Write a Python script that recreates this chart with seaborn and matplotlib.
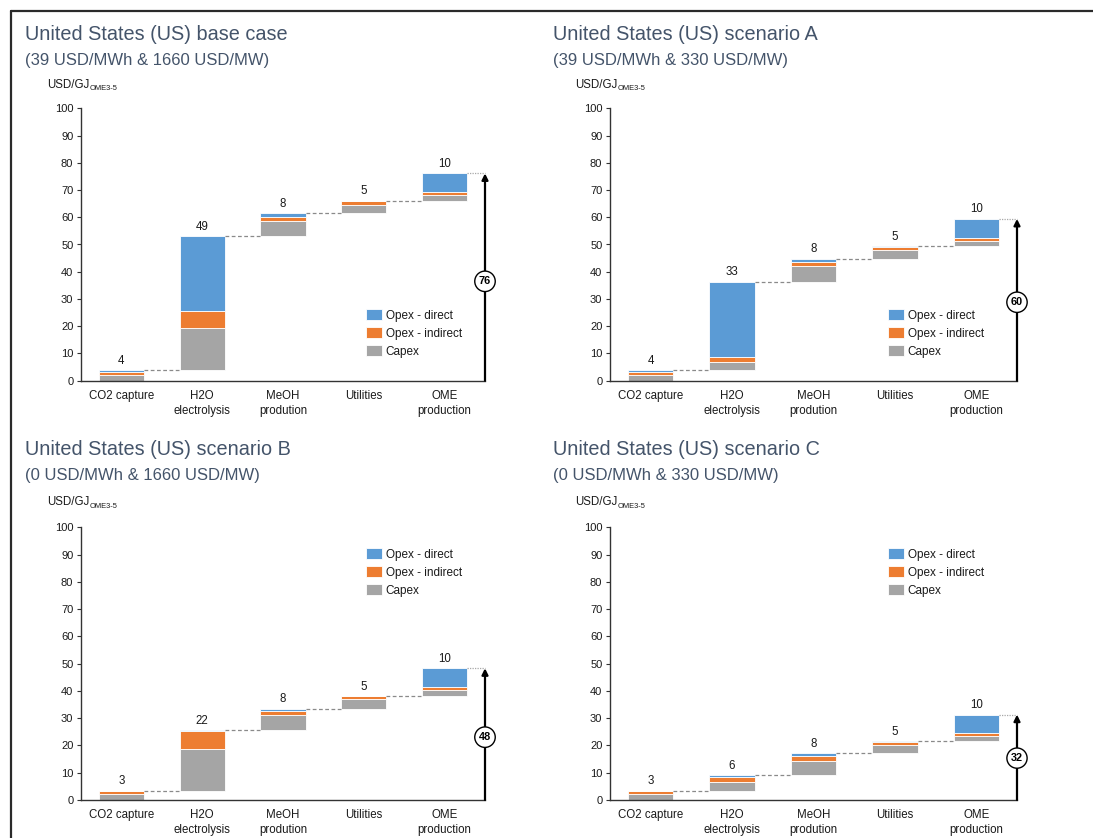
import numpy as np
import matplotlib
matplotlib.use("Agg")
import matplotlib.pyplot as plt
from matplotlib.patches import Patch
from matplotlib.lines import Line2D
import seaborn as sns

# ---------------- data ----------------
categories = ["CO2 capture", "H2O\nelectrolysis", "MeOH\nprodution", "Utilities", "OME\nproduction"]
components = ["Capex", "Opex - indirect", "Opex - direct"]

titles = ["United States (US) base case", "United States (US) scenario A",
          "United States (US) scenario B", "United States (US) scenario C"]
subtitles = ["(39 USD/MWh & 1660 USD/MW)", "(39 USD/MWh & 330 USD/MW)",
             "(0 USD/MWh & 1660 USD/MW)", "(0 USD/MWh & 330 USD/MW)"]

capex_base = [2.0, 15.6, 5.5, 3.2, 2.1]
opex_ind_base = [1.3, 6.2, 1.6, 1.2, 1.2]
opex_dir_base = [0.6, 27.3, 1.3, 0.2, 6.8]

capex_a = [2.0, 3.1, 5.7, 3.2, 2.1]
opex_ind_a = [1.3, 1.8, 1.6, 1.1, 1.1]
opex_dir_a = [0.6, 27.6, 1.1, 0.2, 6.9]

capex_b = [2.2, 15.4, 5.5, 3.4, 2.1]
opex_ind_b = [1.2, 6.5, 1.8, 1.1, 1.1]
opex_dir_b = [0.0, 0.2, 0.7, 0.1, 7.0]

capex_c = [2.2, 3.2, 5.4, 3.2, 2.1]
opex_ind_c = [1.2, 2.0, 1.9, 1.1, 1.1]
opex_dir_c = [0.0, 0.4, 0.8, 0.1, 6.6]

step_labels_base = [4, 49, 8, 5, 10]
step_labels_a = [4, 33, 8, 5, 10]
step_labels_b = [3, 22, 8, 5, 10]
step_labels_c = [3, 6, 8, 5, 10]

totals = [76, 60, 48, 32]
y_ticks = [0, 10, 20, 30, 40, 50, 60, 70, 80, 90, 100]

# ---------------- style ----------------
sns.set_theme(style="white")
plt.rcParams["font.family"] = ["Liberation Sans", "DejaVu Sans"]

colors = {"Capex": "#A5A5A5", "Opex - indirect": "#ED7D31", "Opex - direct": "#5B9BD5"}
title_color = "#44546A"
text_color = "#1a1a1a"

W, H = 1093, 838
fig = plt.figure(figsize=(W / 100, H / 100), dpi=100)

def fx(px):
    return px / W

def fy(py):
    return 1 - py / H

# panel geometry in pixels
panels = [
    (81, 485, 380.7, 108.3, 25, 39.5, 64.5, 47, 87.5, 366, 309),
    (610, 1017, 380.7, 108.3, 553, 39.5, 64.5, 575, 87.5, 888, 309),
    (81, 485, 800, 527.3, 25, 454.5, 480, 47, 505, 366, 548),
    (610, 1017, 800, 527.3, 553, 454.5, 480, 575, 505, 888, 548),
]

data = [
    (capex_base, opex_ind_base, opex_dir_base, step_labels_base),
    (capex_a, opex_ind_a, opex_dir_a, step_labels_a),
    (capex_b, opex_ind_b, opex_dir_b, step_labels_b),
    (capex_c, opex_ind_c, opex_dir_c, step_labels_c),
]

bar_w = 0.56

for i, (geo, d) in enumerate(zip(panels, data)):
    left, right, y0, y100, tx, ty1, ty2, ux, uy, lx, ly = geo
    capex, ind, dirr, steps = d
    ax = fig.add_axes([fx(left), fy(y0), fx(right - left), (y0 - y100) / H])

    capex = np.array(capex)
    ind = np.array(ind)
    dirr = np.array(dirr)
    step_tot = capex + ind + dirr
    base = np.concatenate([[0], np.cumsum(step_tot)[:-1]])
    top = base + step_tot

    bottoms = base.copy()
    for comp, vals in zip(components, [capex, ind, dirr]):
        sns.barplot(x=categories, y=vals, bottom=bottoms, color=colors[comp],
                    width=bar_w, ax=ax, errorbar=None, saturation=1,
                    edgecolor="white", linewidth=0.6)
        bottoms = bottoms + vals

    # connectors
    for k in range(len(categories) - 1):
        ax.plot([k + bar_w / 2, k + 1 - bar_w / 2], [top[k], top[k]],
                color="#8a8a8a", lw=0.9, ls=(0, (3, 2)), zorder=1)
    n = len(categories)
    ax.plot([n - 1 + bar_w / 2, n - 0.5], [top[-1], top[-1]],
            color="#a8a8a8", lw=0.9, ls=(0, (1, 1)), zorder=1, clip_on=False)

    # step labels
    for k in range(n):
        ax.annotate(str(steps[k]), xy=(k, top[k]), xytext=(0, 2.5),
                    textcoords="offset points", ha="center", va="bottom",
                    fontsize=8.3, color=text_color)

    # total arrow
    ax.annotate("", xy=(n - 0.5, top[-1]), xytext=(n - 0.5, 0),
                arrowprops=dict(arrowstyle="-|>", lw=1.6, color="black",
                                mutation_scale=9, shrinkA=0, shrinkB=0),
                annotation_clip=False)
    ax.text(n - 0.5, totals[i] * 0.48, str(totals[i]), ha="center", va="center",
            fontsize=7.8, fontweight="bold", color="black", clip_on=False,
            bbox=dict(boxstyle="circle,pad=0.38", fc="white", ec="black", lw=1.0))

    ax.set_xlim(-0.5, n - 0.5)
    ax.set_ylim(0, 100)
    ax.set_yticks(y_ticks)
    ax.set_yticklabels([str(v) for v in y_ticks])
    ax.set_xlabel("")
    ax.set_ylabel("")
    for s in ["top", "right"]:
        ax.spines[s].set_visible(False)
    for s in ["left", "bottom"]:
        ax.spines[s].set_color("#333333")
        ax.spines[s].set_linewidth(1.0)
    ax.tick_params(axis="y", left=True, length=3, width=0.8, color="#333333",
                   labelsize=8.0, labelcolor=text_color, pad=2.5)
    ax.tick_params(axis="x", bottom=False, labelsize=8.3, labelcolor=text_color, pad=0.5)
    for lbl in ax.get_xticklabels():
        lbl.set_linespacing(1.35)
        lbl.set_verticalalignment("top")
    ax.set_facecolor("none")

    # legend
    handles = [Patch(facecolor=colors[c], edgecolor="white", lw=0.6, label=c)
               for c in ["Opex - direct", "Opex - indirect", "Capex"]]
    fig.legend(handles=handles, loc="upper left",
               bbox_to_anchor=(fx(lx), fy(ly)), bbox_transform=fig.transFigure,
               frameon=False, fontsize=8.5, handlelength=1.36, handleheight=1.1,
               handletextpad=0.3, labelspacing=0.45, borderpad=0, borderaxespad=0,
               labelcolor=text_color)

    # titles
    fig.text(fx(tx), fy(ty1), titles[i], fontsize=14.3, color=title_color, va="baseline", ha="left")
    fig.text(fx(tx), fy(ty2), subtitles[i], fontsize=12, color=title_color, va="baseline", ha="left")
    # unit label
    fig.text(fx(ux), fy(uy), "USD/GJ", fontsize=8.3, color=text_color, va="baseline", ha="left")
    fig.text(fx(ux + 42.5), fy(uy + 2.5), "OME3-5", fontsize=5.4, color=text_color,
             va="baseline", ha="left")

# outer frame lines
fig.add_artist(Line2D([fx(11), 1], [fy(11), fy(11)], color="#2a2a2a", lw=1.6))
fig.add_artist(Line2D([fx(11), fx(11)], [fy(11), 0], color="#2a2a2a", lw=1.6))

fig.savefig("out.png", dpi=100)
